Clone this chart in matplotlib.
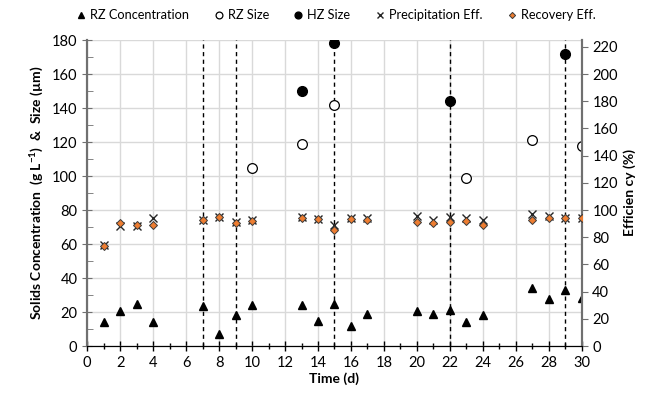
import numpy as np
import matplotlib
matplotlib.use("Agg")
import matplotlib.pyplot as plt
from matplotlib.ticker import MultipleLocator

plt.rcParams['font.family'] = ['Lato', 'DejaVu Sans']
plt.rcParams['mathtext.default'] = 'regular'

# Data
days = [1, 2, 3, 4, 7, 8, 9, 10, 13, 14, 15, 16, 17, 20, 21, 22, 23, 24, 27, 28, 29, 30]
rz_conc = [14, 20.6, 24.5, 14, 23.5, 7.3, 18, 24, 24, 14.7, 25, 11.6, 18.6, 20.6, 18.6, 21,
           14, 18, 34, 27.5, 33, 28.5]
precip_eff = [74.3, 88, 88, 94.4, 93, 95, 91.2, 92.7, 95, 93.7, 89, 94, 94.4, 95.7, 92.5, 95,
              94.4, 92.5, 97, 95.7, 94.4, 94.4]
recov_eff = [73.8, 90.8, 89.3, 89.3, 92.5, 94.9, 90.8, 92.2, 94.4, 93.2, 85.4, 93.2, 92.7, 91.2,
             90.8, 91.3, 92, 89, 92.5, 94.4, 94.4, 94.4]

rz_size_days = [10, 13, 15, 23, 27, 30]
rz_size = [105, 119, 142, 99, 121, 117.5]

hz_size_days = [13, 15, 22, 29]
hz_size = [150, 178, 144, 172]

event_days = [7, 9, 15, 22, 29]

fig = plt.figure(figsize=(6.65, 4.0), dpi=100)
ax = fig.add_axes([0.131, 0.135, 0.744, 0.765])
ax2 = ax.twinx()

# dashed event lines
for d in event_days:
    ax.axvline(d, color='black', linestyle=(0, (3, 2.5)), linewidth=1, zorder=2)

h1, = ax.plot(days, rz_conc, linestyle='none', marker='^', color='black', markersize=6,
              label='RZ Concentration', zorder=4)
h2, = ax.plot(rz_size_days, rz_size, linestyle='none', marker='o', markerfacecolor='white',
              markeredgecolor='black', markeredgewidth=0.9, markersize=7, label='RZ Size', zorder=4)
h3, = ax.plot(hz_size_days, hz_size, linestyle='none', marker='o', color='black', markersize=7,
              label='HZ Size', zorder=4)
h4, = ax2.plot(days, precip_eff, linestyle='none', marker='x', color='#262626', markersize=5.5,
               markeredgewidth=1, label='Precipitation Eff.', zorder=4)
h5, = ax2.plot(days, recov_eff, linestyle='none', marker='D', markerfacecolor='#ED7D31',
               markeredgecolor='#3a3a3a', markeredgewidth=0.7, markersize=4.5,
               label='Recovery Eff.', zorder=5)

ax.set_xlim(0, 30)
ax.set_ylim(0, 180)
ax2.set_ylim(0, 225)

ax.xaxis.set_major_locator(MultipleLocator(2))
ax.xaxis.set_minor_locator(MultipleLocator(1))
ax.yaxis.set_major_locator(MultipleLocator(20))
ax.yaxis.set_minor_locator(MultipleLocator(10))
ax2.yaxis.set_major_locator(MultipleLocator(20))

ax.grid(True, which='major', color='#d9d9d9', linewidth=1)
ax.set_axisbelow(True)

ax.tick_params(axis='x', which='major', direction='inout', length=7, width=1, labelsize=10.5, color='black')
ax.tick_params(axis='x', which='minor', direction='inout', length=5, width=1, color='black')
ax.tick_params(axis='y', which='major', direction='inout', length=7, labelsize=10.5, color='#707070')
ax.tick_params(axis='y', which='minor', direction='in', length=4, color='#707070')
ax2.tick_params(axis='y', which='major', direction='out', length=4, labelsize=10.5, color='#707070')

for a in (ax, ax2):
    a.spines['top'].set_visible(False)
    a.spines['left'].set_color('#707070')
    a.spines['left'].set_linewidth(1.5)
    a.spines['right'].set_color('#707070')
    a.spines['right'].set_linewidth(1.5)
    a.spines['bottom'].set_color('black')

ax.set_xlabel('Time (d)', fontsize=10, fontweight='bold', labelpad=2)
ax.set_ylabel('Solids Concentration  (g L$^{-1}$)  &  Size (µm)', fontsize=10, fontweight='bold')
ax2.set_ylabel('Efficien cy (%)', fontsize=10, fontweight='bold')

fig.legend(handles=[h1, h2, h3, h4, h5], loc='center', bbox_to_anchor=(0.505, 0.9625),
           ncol=5, frameon=False, fontsize=9.2, handlelength=0.8, handletextpad=0.3,
           columnspacing=1.9, markerscale=0.7)

fig.savefig('out.png', dpi=100)
